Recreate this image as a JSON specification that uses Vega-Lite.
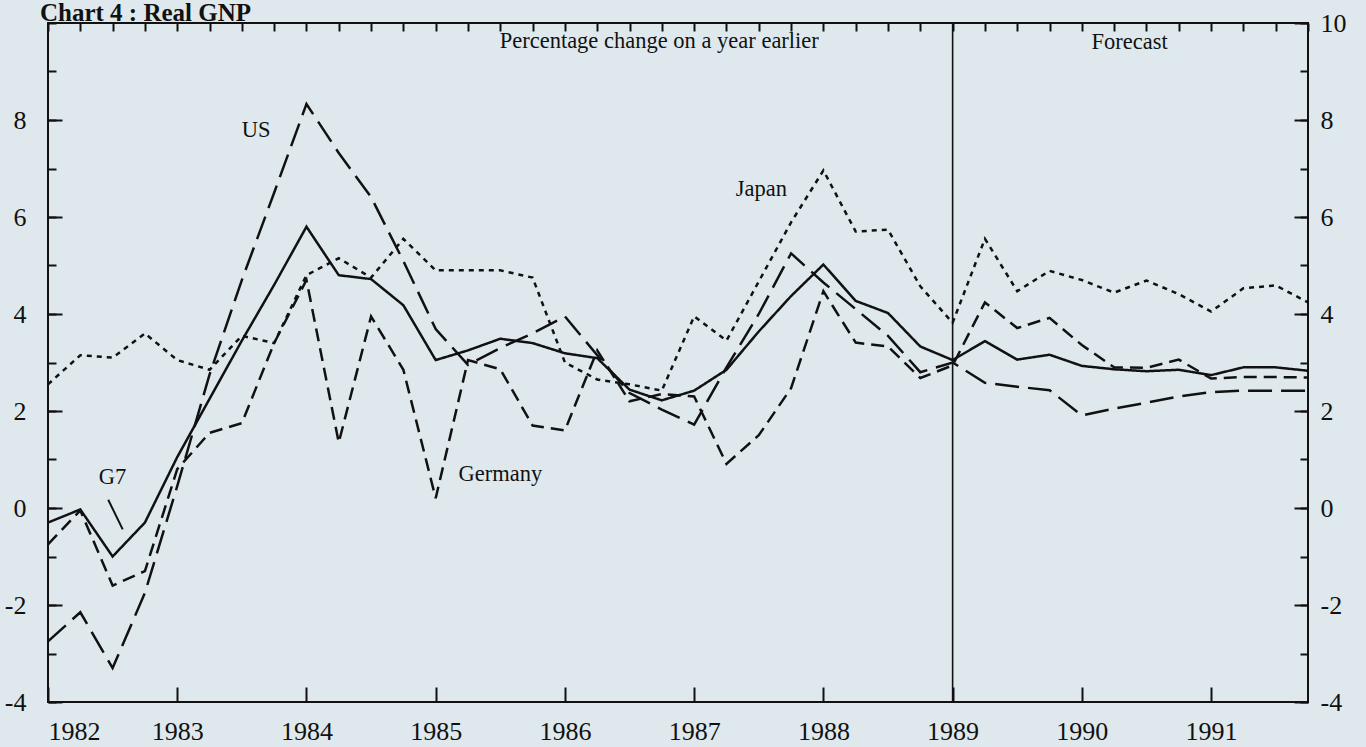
{
  "$schema": "https://vega.github.io/schema/vega-lite/v6.json",
  "width": 1260,
  "height": 679,
  "autosize": {"type": "none"},
  "padding": {"left": 48, "top": 23, "right": 58, "bottom": 45},
  "background": "#dfe9ed",
  "config": {
    "view": {"stroke": "#111", "strokeWidth": 2},
    "axis": {"grid": false, "domain": false, "tickColor": "#111", "tickWidth": 2, "labelColor": "#111", "labelFont": "Liberation Serif", "labelFontSize": 26, "titleFontSize": 0}
  },
  "resolve": {"axis": {"x": "independent", "y": "independent"}},
  "layer": [
    {
      "data": {"values": [
        {"t": 1982.00, "G7": -0.3, "US": -2.75, "Japan": 2.55, "Germany": -0.75},
        {"t": 1982.25, "G7": -0.03, "US": -2.15, "Japan": 3.15, "Germany": -0.05},
        {"t": 1982.50, "G7": -1.0, "US": -3.3, "Japan": 3.1, "Germany": -1.6},
        {"t": 1982.75, "G7": -0.3, "US": -1.75, "Japan": 3.6, "Germany": -1.3},
        {"t": 1983.00, "G7": 1.05, "US": 0.45, "Japan": 3.05, "Germany": 0.8},
        {"t": 1983.25, "G7": 2.25, "US": 2.75, "Japan": 2.85, "Germany": 1.55},
        {"t": 1983.50, "G7": 3.45, "US": 4.7, "Japan": 3.55, "Germany": 1.75},
        {"t": 1983.75, "G7": 4.6, "US": 6.5, "Japan": 3.4, "Germany": 3.4},
        {"t": 1984.00, "G7": 5.8, "US": 8.33, "Japan": 4.8, "Germany": 4.7},
        {"t": 1984.25, "G7": 4.8, "US": 7.32, "Japan": 5.15, "Germany": 1.35},
        {"t": 1984.50, "G7": 4.72, "US": 6.41, "Japan": 4.75, "Germany": 3.95},
        {"t": 1984.75, "G7": 4.18, "US": 5.09, "Japan": 5.55, "Germany": 2.85},
        {"t": 1985.00, "G7": 3.05, "US": 3.69, "Japan": 4.9, "Germany": 0.2},
        {"t": 1985.25, "G7": 3.25, "US": 2.95, "Japan": 4.9, "Germany": 3.05},
        {"t": 1985.50, "G7": 3.49, "US": 3.3, "Japan": 4.9, "Germany": 2.86},
        {"t": 1985.75, "G7": 3.4, "US": 3.6, "Japan": 4.75, "Germany": 1.7},
        {"t": 1986.00, "G7": 3.19, "US": 3.95, "Japan": 3.0, "Germany": 1.6},
        {"t": 1986.25, "G7": 3.09, "US": 3.15, "Japan": 2.65, "Germany": 3.25},
        {"t": 1986.50, "G7": 2.44, "US": 2.37, "Japan": 2.55, "Germany": 2.2},
        {"t": 1986.75, "G7": 2.22, "US": 2.03, "Japan": 2.42, "Germany": 2.35},
        {"t": 1987.00, "G7": 2.42, "US": 1.72, "Japan": 3.95, "Germany": 2.3},
        {"t": 1987.25, "G7": 2.85, "US": 2.9, "Japan": 3.45, "Germany": 0.91},
        {"t": 1987.50, "G7": 3.64, "US": 4.0, "Japan": 4.67, "Germany": 1.5},
        {"t": 1987.75, "G7": 4.37, "US": 5.25, "Japan": 5.89, "Germany": 2.47},
        {"t": 1988.00, "G7": 5.02, "US": 4.65, "Japan": 6.96, "Germany": 4.47},
        {"t": 1988.25, "G7": 4.27, "US": 4.1, "Japan": 5.7, "Germany": 3.41},
        {"t": 1988.50, "G7": 4.02, "US": 3.55, "Japan": 5.74, "Germany": 3.33},
        {"t": 1988.75, "G7": 3.33, "US": 2.8, "Japan": 4.57, "Germany": 2.68},
        {"t": 1989.00, "G7": 3.05, "US": 3.0, "Japan": 3.82, "Germany": 2.94},
        {"t": 1989.25, "G7": 3.44, "US": 2.58, "Japan": 5.55, "Germany": 4.24},
        {"t": 1989.50, "G7": 3.06, "US": 2.5, "Japan": 4.47, "Germany": 3.71},
        {"t": 1989.75, "G7": 3.16, "US": 2.43, "Japan": 4.89, "Germany": 3.92},
        {"t": 1990.00, "G7": 2.93, "US": 1.91, "Japan": 4.7, "Germany": 3.36},
        {"t": 1990.25, "G7": 2.86, "US": 2.05, "Japan": 4.44, "Germany": 2.9},
        {"t": 1990.50, "G7": 2.82, "US": 2.17, "Japan": 4.69, "Germany": 2.89},
        {"t": 1990.75, "G7": 2.85, "US": 2.3, "Japan": 4.41, "Germany": 3.06},
        {"t": 1991.00, "G7": 2.74, "US": 2.39, "Japan": 4.05, "Germany": 2.67},
        {"t": 1991.25, "G7": 2.9, "US": 2.42, "Japan": 4.53, "Germany": 2.7},
        {"t": 1991.50, "G7": 2.9, "US": 2.42, "Japan": 4.59, "Germany": 2.7},
        {"t": 1991.75, "G7": 2.83, "US": 2.42, "Japan": 4.24, "Germany": 2.69}
      ]},
      "transform": [{"fold": ["G7", "US", "Japan", "Germany"], "as": ["series", "v"]}],
      "mark": {"type": "line", "color": "#111", "strokeWidth": 2.5},
      "encoding": {
        "x": {"field": "t", "type": "quantitative", "scale": {"domain": [1982, 1991.75], "nice": false, "zero": false},
              "axis": {"values": [1982, 1983, 1984, 1985, 1986, 1987, 1988, 1989, 1990, 1991], "tickSize": -15, "labelPadding": 31, "labelExpr": "datum.value + ''", "title": null}},
        "y": {"field": "v", "type": "quantitative", "scale": {"domain": [-4, 10], "nice": false, "zero": false},
              "axis": {"orient": "left", "values": [-4, -2, 0, 2, 4, 6, 8], "tickSize": -14, "labelPadding": 36, "labelExpr": "datum.value + ''", "title": null}},
        "strokeDash": {"field": "series", "type": "nominal", "scale": {"domain": ["G7", "US", "Japan", "Germany"], "range": [[1, 0], [24, 9], [5, 5], [13, 7]]}, "legend": null}
      }
    },
    {
      "data": {"values": [{"t": 1989, "v": -4, "v2": 10}]},
      "mark": {"type": "rule", "color": "#111", "strokeWidth": 1.6},
      "encoding": {
        "x": {"field": "t", "type": "quantitative",
              "axis": {"values": [1982, 1982.25, 1982.5, 1982.75, 1983, 1983.25, 1983.5, 1983.75, 1984, 1984.25, 1984.5, 1984.75, 1985, 1985.25, 1985.5, 1985.75, 1986, 1986.25, 1986.5, 1986.75, 1987, 1987.25, 1987.5, 1987.75, 1988, 1988.25, 1988.5, 1988.75, 1989, 1989.25, 1989.5, 1989.75, 1990, 1990.25, 1990.5, 1990.75, 1991, 1991.25, 1991.5, 1991.75], "tickSize": -8, "labels": false, "title": null}},
        "y": {"field": "v", "type": "quantitative",
              "axis": {"orient": "right", "values": [-4, -3, -2, -1, 0, 1, 2, 3, 4, 5, 6, 7, 8, 9, 10], "tickSize": -8, "labels": false, "title": null}},
        "y2": {"field": "v2"}
      }
    },
    {
      "data": {"values": [
        {"t": 1983.61, "v": 7.79, "label": "US"},
        {"t": 1982.50, "v": 0.64, "label": "G7"},
        {"t": 1987.52, "v": 6.57, "label": "Japan"},
        {"t": 1985.50, "v": 0.71, "label": "Germany"},
        {"t": 1986.73, "v": 9.62, "label": "Percentage change on a year earlier"},
        {"t": 1990.37, "v": 9.6, "label": "Forecast"}
      ]},
      "mark": {"type": "text", "font": "Liberation Serif", "fontSize": 22.5, "color": "#111", "align": "center", "baseline": "middle"},
      "encoding": {
        "x": {"field": "t", "type": "quantitative", "axis": null},
        "y": {"field": "v", "type": "quantitative",
              "axis": {"orient": "right", "values": [-4, -2, 0, 2, 4, 6, 8, 10], "tickSize": -14, "labelPadding": 26, "labelExpr": "datum.value + ''", "title": null}},
        "text": {"field": "label"}
      }
    },
    {
      "data": {"values": [{"t": 1982.466, "v": 0.17, "t2": 1982.578, "v2": -0.44}]},
      "mark": {"type": "rule", "color": "#111", "strokeWidth": 2},
      "encoding": {
        "x": {"field": "t", "type": "quantitative", "axis": null},
        "x2": {"field": "t2"},
        "y": {"field": "v", "type": "quantitative",
              "axis": {"orient": "left", "values": [-4, -3, -2, -1, 0, 1, 2, 3, 4, 5, 6, 7, 8, 9, 10], "tickSize": -8, "labels": false, "title": null}},
        "y2": {"field": "v2"}
      }
    },
    {
      "data": {"values": [{"t": 1981.938, "v": 10.45, "label": "Chart 4 : Real GNP"}]},
      "mark": {"type": "text", "font": "Liberation Serif", "fontSize": 25, "fontWeight": "bold", "color": "#111", "align": "left", "baseline": "top"},
      "encoding": {
        "x": {"field": "t", "type": "quantitative", "axis": null},
        "y": {"field": "v", "type": "quantitative", "axis": null},
        "text": {"field": "label"}
      }
    }
  ]
}
